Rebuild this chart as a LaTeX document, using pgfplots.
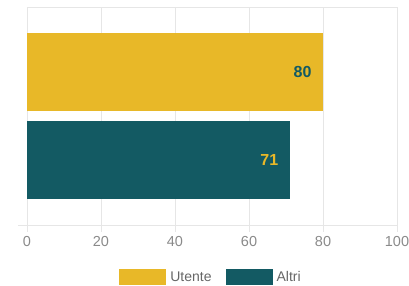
\documentclass[border=0pt]{standalone}
\usepackage{pgfplots}
\pgfplotsset{compat=1.18}
\usepackage{fontspec}
\setmainfont{Liberation Sans}
\definecolor{cyell}{HTML}{E8B828}
\definecolor{cteal}{HTML}{135A63}
\definecolor{cgrid}{HTML}{E6E6E6}
\definecolor{ctick}{HTML}{8A8A8A}
\definecolor{cleg}{HTML}{666666}
\begin{document}
\begin{tikzpicture}
\begin{axis}[
  name=ax,
  scale only axis,
  width=370bp, height=218bp,
  xmin=0, xmax=100, ymin=0, ymax=1,
  xtick={0,20,40,60,80,100},
  ytick=\empty,
  xmajorgrids,
  grid style={cgrid, line width=0.8bp},
  axis line style={cgrid, line width=0.8bp},
  xtick pos=bottom,
  tick align=outside,
  major tick length=7bp,
  tick style={cgrid, line width=0.8bp},
  ticklabel style={font=\fontsize{14.5bp}{16bp}\selectfont, text=ctick},
  /pgf/number format/assume math mode=true,
  xticklabel style={yshift=-1bp},
  clip=false,
  legend columns=2,
  legend style={draw=none, fill=none, at={(0.5,0)}, anchor=center, yshift=-52bp,
    font=\fontsize{14bp}{16bp}\selectfont, text=cleg,
    /tikz/every even column/.append style={column sep=10bp},
    nodes={inner xsep=4bp, inner ysep=2bp}},
  legend image code/.code={\fill[#1] (0bp,-8bp) rectangle (47bp,8bp);},
  point meta=x,
  nodes near coords,
  every node near coord/.append style={anchor=east, xshift=-8bp,
    font=\fontsize{16bp}{18bp}\selectfont\bfseries},
]
\addplot[xbar, bar shift=0pt, bar width=0.358, fill=cyell, draw=none,
  every node near coord/.append style={text=cteal}]
  coordinates {(80,0.702)};
\addlegendentry{Utente}
\addplot[xbar, bar shift=0pt, bar width=0.358, fill=cteal, draw=none,
  every node near coord/.append style={text=cyell}]
  coordinates {(71,0.3)};
\addlegendentry{Altri}
\draw[cgrid, line width=0.8bp] (axis cs:0,0) -- ++(-9bp,0);
\end{axis}
\pgfresetboundingbox
\path[use as bounding box] ([shift={(-27bp,-61bp)}]ax.south west) rectangle ([shift={(12bp,7bp)}]ax.north east);
\end{tikzpicture}
\end{document}
